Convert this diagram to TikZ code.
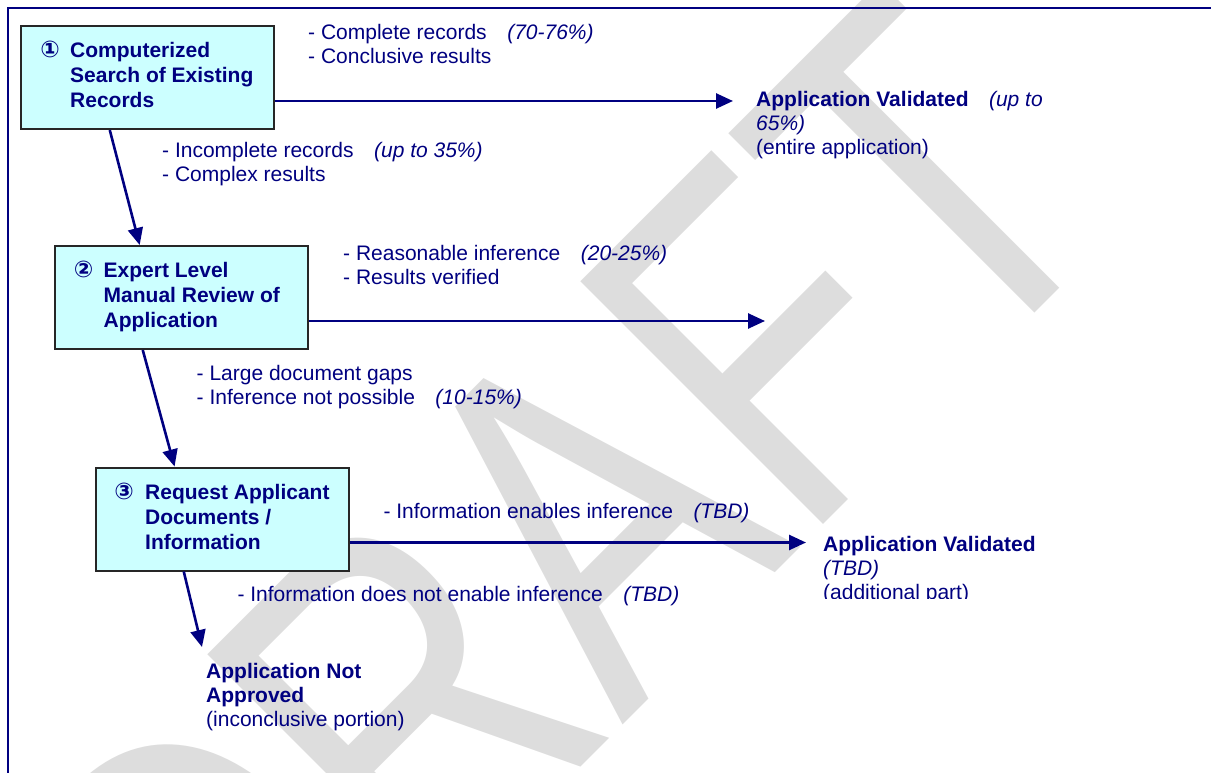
\documentclass[tikz,border=0pt]{standalone}
\usepackage{fontspec}
\setmainfont{Liberation Sans}
\newfontfamily\circfont{DejaVu Sans Bold}
\usetikzlibrary{arrows.meta,calc}

\definecolor{navy}{RGB}{0,0,128}
\definecolor{boxcyan}{RGB}{204,255,255}
\definecolor{wmgray}{RGB}{221,221,221}

% left-aligned multi-line text whose baseline is the first line's
\newcommand\textlines[1]{\begin{tabular}[t]{@{}l@{}}#1\end{tabular}}
\newcommand\pctgap{\hspace{20.5pt}}

\begin{document}
\begin{tikzpicture}[x=1pt,y=-1pt,
  lbl/.style={anchor=base west, inner sep=0pt, text=navy,
    font=\fontsize{21}{24}\selectfont},
  boxtxt/.style={anchor=base west, inner sep=0pt, text=navy,
    font=\fontsize{21}{25}\selectfont\bfseries},
  digit/.style={anchor=base, inner sep=0pt, text=navy,
    font=\fontsize{23}{23}\circfont},
  stepbox/.style={draw=black!85, line width=2pt, fill=boxcyan,
    minimum width=253pt, minimum height=103pt, inner sep=0pt},
  flow/.style={draw=navy, line width=2.6pt,
    -{Triangle[length=17pt,width=15pt]}},
  frame/.style={draw=navy, line width=2pt},
  wmark/.style={inner sep=0pt, text=wmgray,
    font=\fontsize{499}{499}\selectfont}]

\useasboundingbox (0,0) rectangle (1211,773);
\clip (0,0) rectangle (1211,773);

% watermark
\node[wmark, rotate=45, anchor=base] (draft) at (682,666)
  {\scalebox{0.76}[1]{DRAFT}};

% page frame
\draw[frame] (8,790) -- (8,8.5) -- (1230,8.5);

% process steps
\node[stepbox] (b1) at (147.5,77.5) {};
\node[stepbox] (b2) at (181.5,297.5) {};
\node[stepbox] (b3) at (222.5,519) {};

\node[digit] (d1) at (50,58) {①};
\node[boxtxt] (b1t) at (70,58)
  {\textlines{Computerized\\Search of Existing\\Records}};
\node[digit] (d2) at (83.5,277) {②};
\node[boxtxt] (b2t) at (103.5,277)
  {\textlines{Expert Level\\Manual Review of\\Application}};
\node[digit] (d3) at (124,499) {③};
\node[boxtxt] (b3t) at (145,499)
  {\textlines{Request Applicant\\Documents /\\Information}};

% outcomes
\node[lbl] (v1) at (756,107)
  {\textlines{\textbf{Application Validated}\pctgap\textit{(up to}\\
   \textit{65\%)}\\(entire application)}};
\begin{scope}
  \clip (700,0) rectangle (1211,598.3);
  \node[lbl] (v2) at (823,551.5)
    {\textlines{\textbf{Application Validated}\\\textit{(TBD)}\\(additional part)}};
\end{scope}
\node[lbl] (na) at (206,678)
  {\textlines{\textbf{Application Not}\\\textbf{Approved}\\(inconclusive portion)}};

% branch conditions
\node[lbl] (c1) at (308,40)
  {\textlines{- Complete records\pctgap\textit{(70-76\%)}\\- Conclusive results}};
\node[lbl] (c2) at (162,158)
  {\textlines{- Incomplete records\pctgap\textit{(up to 35\%)}\\- Complex results}};
\node[lbl] (c3) at (343,260)
  {\textlines{- Reasonable inference\pctgap\textit{(20-25\%)}\\- Results verified}};
\node[lbl] (c4) at (196.5,380)
  {\textlines{- Large document gaps\\- Inference not possible\pctgap\textit{(10-15\%)}}};
\node[lbl] (c5) at (383.3,518)
  {- Information enables inference\pctgap\textit{(TBD)}};
\node[lbl] (c6) at (237.3,601.5)
  {- Information does not enable inference\pctgap\textit{(TBD)}};

% arrow end points
\coordinate (t1) at (733,101);
\coordinate (t2) at (765,321);
\coordinate (t3) at (806,542.5);
\coordinate (t6) at (202,647);

% connectors
\draw[flow] (b1.east |- t1) -- (t1);
\draw[flow] (b2.east |- t2) -- (t2);
\draw[flow] (b3.east |- t3) -- (t3);
\draw[flow] ($(b1.south west)!0.352!(b1.south east)$)
         -- ($(b2.north west)!0.336!(b2.north east)$);
\draw[flow] ($(b2.south west)!0.348!(b2.south east)$)
         -- ($(b3.north west)!0.312!(b3.north east)$);
\draw[flow] ($(b3.south west)!0.348!(b3.south east)$) -- (t6);
\end{tikzpicture}
\end{document}
